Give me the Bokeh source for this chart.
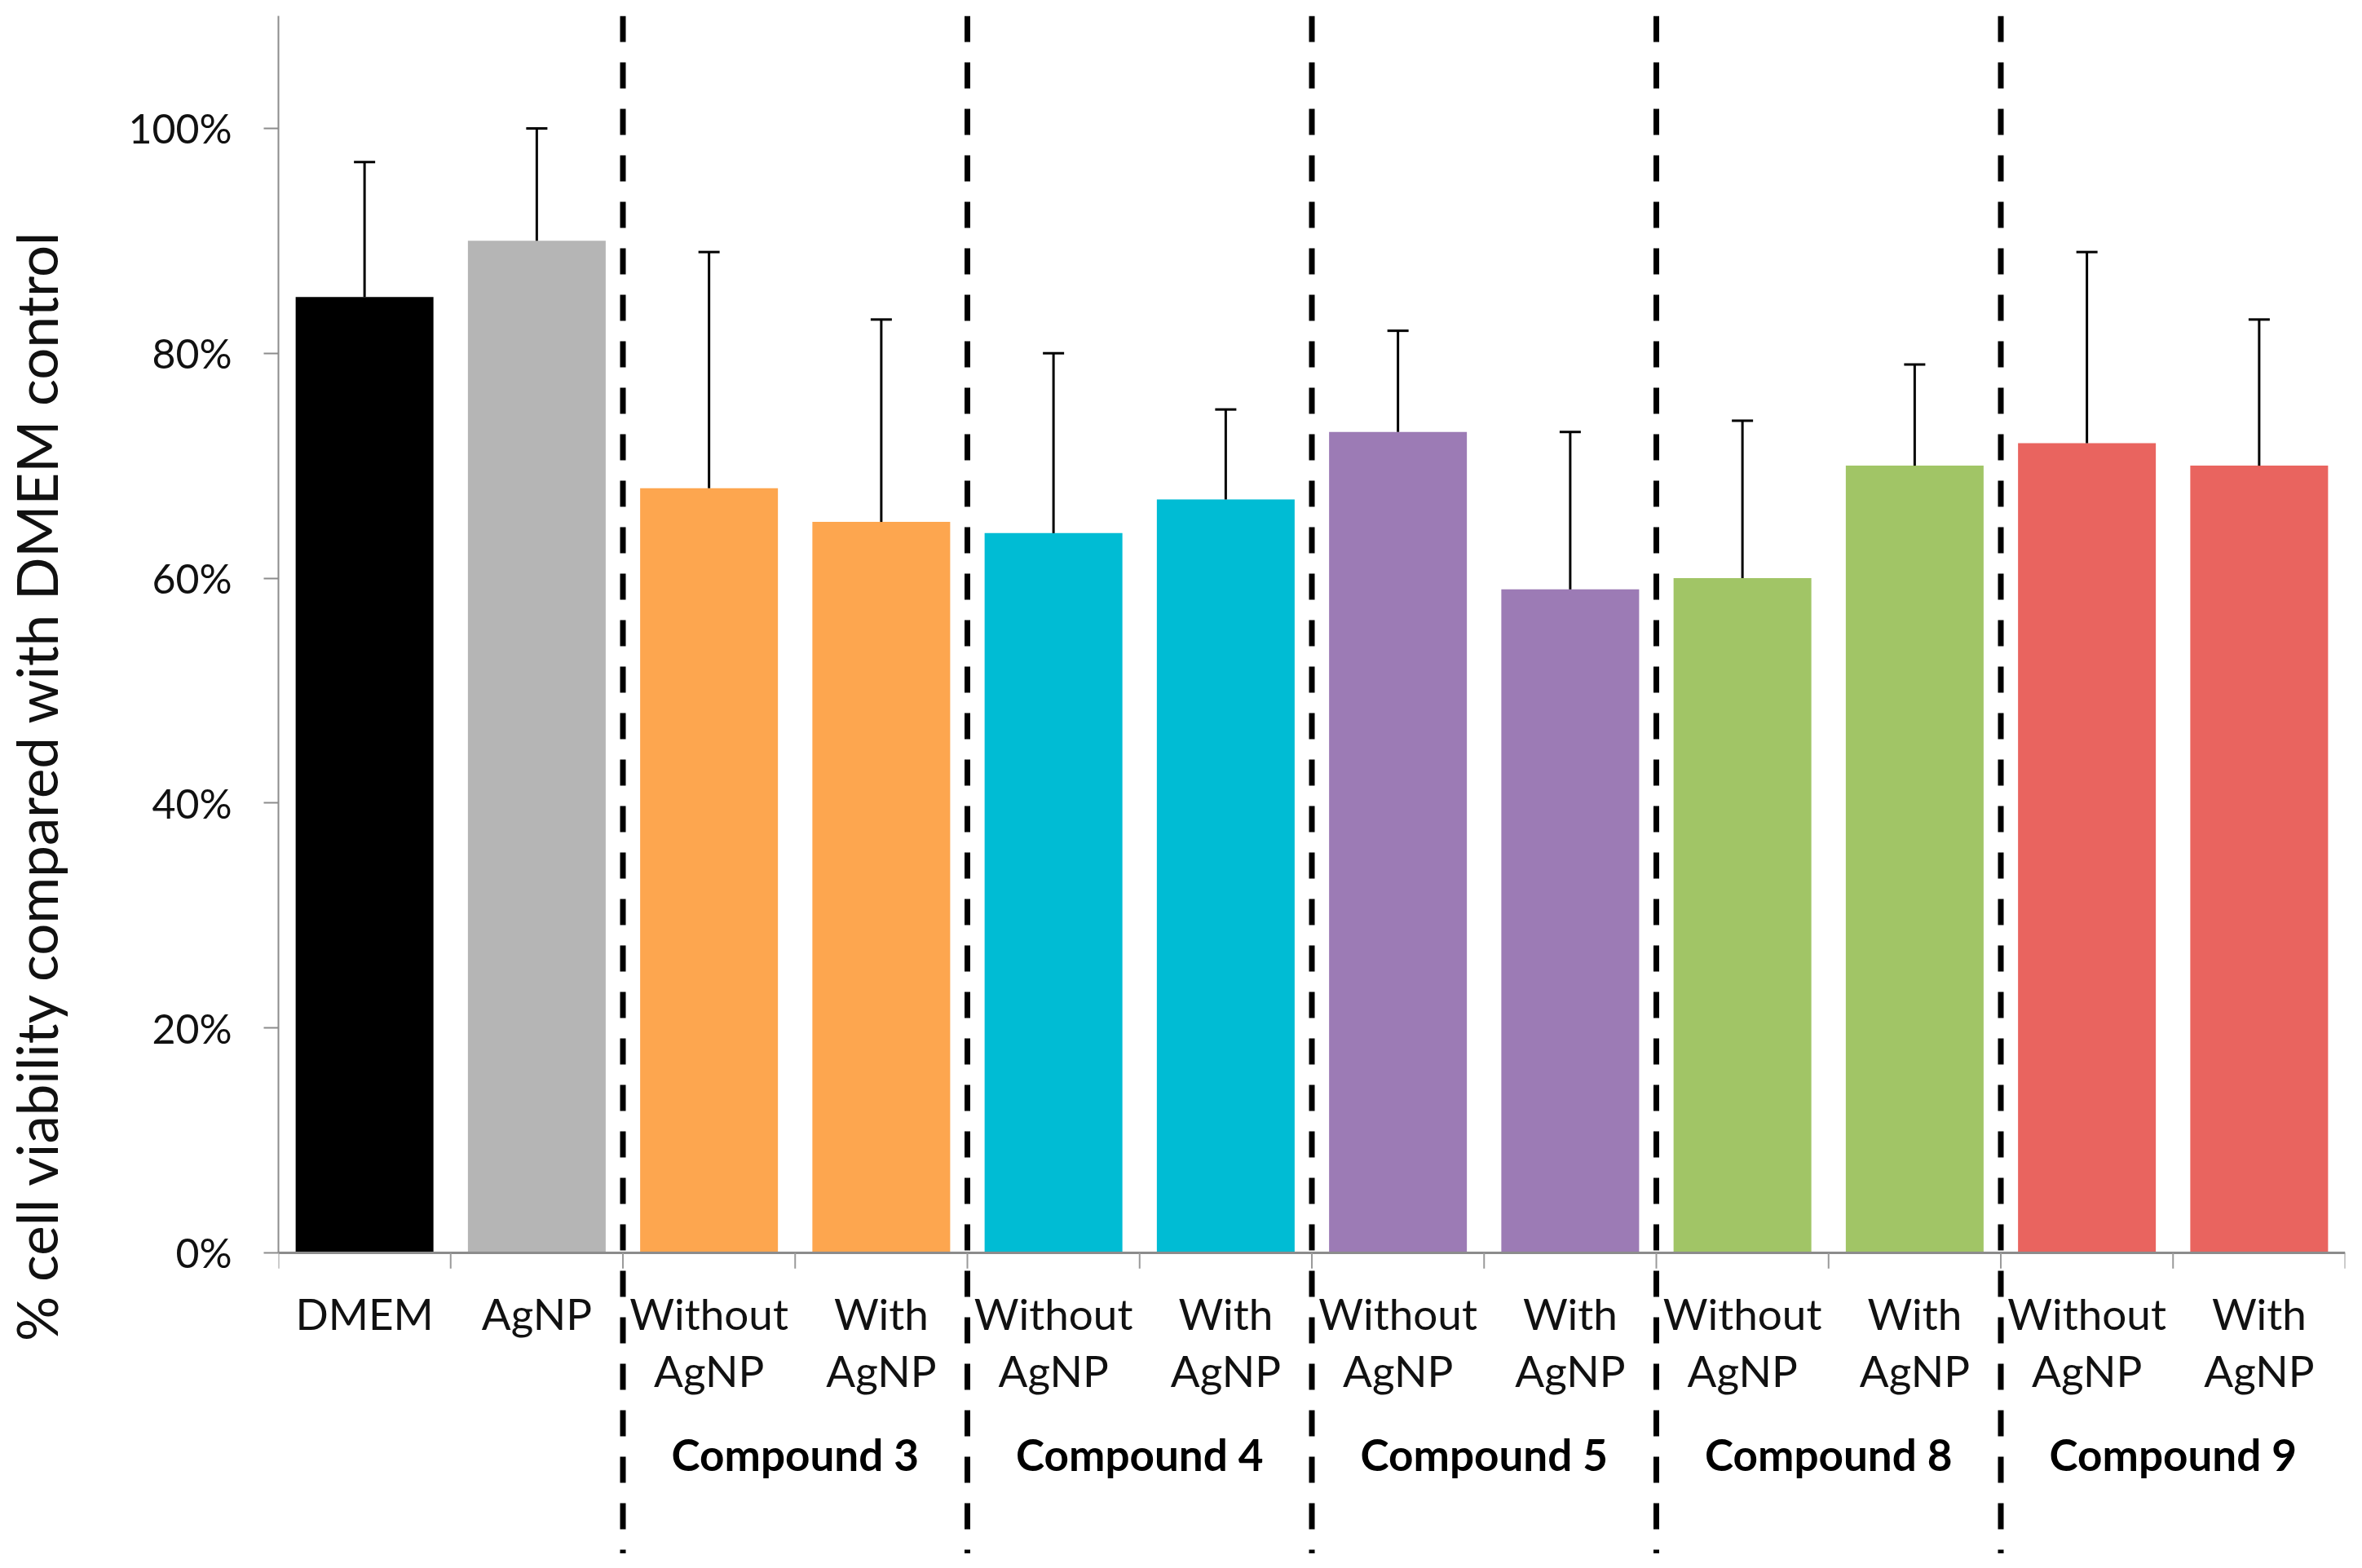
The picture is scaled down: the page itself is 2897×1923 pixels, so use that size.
from bokeh.plotting import figure
from bokeh.models import (ColumnDataSource, FactorRange, Range1d, FixedTicker, LinearAxis,
                          NumeralTickFormatter, CustomJSTickFormatter, Whisker, TeeHead, Arrow)
from bokeh.embed import file_html
from bokeh.resources import INLINE

# ---- data ----
groups = ["", "", "Compound 3", "Compound 3", "Compound 4", "Compound 4",
          "Compound 5", "Compound 5", "Compound 8", "Compound 8", "Compound 9", "Compound 9"]
labels = ["DMEM", "AgNP", "Without\nAgNP", "With\nAgNP", "Without\nAgNP", "With\nAgNP",
          "Without\nAgNP", "With\nAgNP", "Without\nAgNP", "With\nAgNP", "Without\nAgNP", "With\nAgNP"]
values = [0.85, 0.90, 0.68, 0.65, 0.64, 0.67, 0.73, 0.59, 0.60, 0.70, 0.72, 0.70]
errors = [0.12, 0.10, 0.21, 0.18, 0.16, 0.08, 0.09, 0.14, 0.14, 0.09, 0.17, 0.13]
colors = ["#000000", "#b5b5b5", "#fda64f", "#fda64f", "#00bcd4", "#00bcd4",
          "#9c7bb5", "#9c7bb5", "#a1c566", "#a1c566", "#e9645f", "#e9645f"]
y_ticks = [0, 0.2, 0.4, 0.6, 0.8, 1.0]
y_label = "% cell viability compared with DMEM control"

FONT = "Lato"
Y_TOP = 1.10
Y_BOTTOM = -0.2676   # room below zero for the category labels

factors = list(zip(groups, labels))
src = ColumnDataSource(dict(
    x=factors, top=values, upper=[v + e for v, e in zip(values, errors)], color=colors))

x_range = FactorRange(*factors, factor_padding=0, group_padding=0, range_padding=0)
p = figure(width=2880, height=1905, x_range=x_range, y_range=Range1d(Y_BOTTOM, Y_TOP),
           output_backend="svg", toolbar_location=None, y_axis_location=None)
p.min_border_left = 336
p.min_border_right = 4
p.min_border_top = 19
p.min_border_bottom = 0
p.outline_line_color = None
p.xgrid.grid_line_color = None

p.vbar(x="x", top="top", bottom=0, width=0.8, source=src, fill_color="color", line_color=None)

w = Whisker(base="x", lower="top", upper="upper", source=src, dimension="height",
            line_color="black", line_width=3, lower_head=None,
            upper_head=TeeHead(size=26, line_width=3, line_color="black"), level="overlay")
p.add_layout(w)

# y axis: line + ticks (bounded to 0..110%)
line_axis = LinearAxis(bounds=(0, Y_TOP), ticker=FixedTicker(ticks=y_ticks),
                       formatter=CustomJSTickFormatter(code="return ''"),
                       major_tick_in=0, major_tick_out=18, minor_tick_line_color=None,
                       major_tick_line_color="#8c8c8c", major_tick_line_width=2,
                       axis_line_color="#8c8c8c", axis_line_width=2, major_label_standoff=0)
p.add_layout(line_axis, "left")

# y axis: tick labels and title
label_axis = LinearAxis(bounds=(-0.178, Y_TOP), ticker=FixedTicker(ticks=y_ticks),
                        formatter=NumeralTickFormatter(format="0%"),
                        axis_line_color=None, major_tick_line_color=None, minor_tick_line_color=None,
                        major_tick_in=0, major_tick_out=0, major_label_standoff=39,
                        major_label_text_font=FONT, major_label_text_font_size="50px",
                        major_label_text_color="#111111",
                        axis_label=y_label, axis_label_text_font=FONT,
                        axis_label_text_font_size="69px", axis_label_text_font_style="normal",
                        axis_label_text_color="#111111", axis_label_standoff=68)
p.add_layout(label_axis, "left")
p.ygrid.grid_line_color = None

# x axis (categorical, nested) fixed at y = 0
xa = p.xaxis[0]
xa.fixed_location = 0
xa.axis_line_color = "#8c8c8c"
xa.axis_line_width = 3
xa.major_tick_line_color = None
xa.major_label_text_font = FONT
xa.major_label_text_font_size = "53px"
xa.major_label_text_color = "#111111"
xa.major_label_text_line_height = 1.1
xa.major_label_standoff = 37
xa.group_text_font = FONT
xa.group_text_font_size = "53px"
xa.group_text_font_style = "bold"
xa.group_text_color = "#000000"
xa.separator_line_color = None

# boundary ticks below the x axis line
for i in range(len(factors) + 1):
    p.add_layout(Arrow(x_start=i, y_start=0, x_end=i, y_end=-0.014, start=None, end=None,
                       line_color="#9a9a9a", line_width=2))

# dashed separators between groups
for i in range(1, len(groups)):
    if groups[i] != groups[i - 1]:
        p.add_layout(Arrow(x_start=i, y_start=Y_TOP, x_end=i, y_end=Y_BOTTOM,
                           start=None, end=None, line_color="black", line_width=7,
                           line_dash="32 25", level="overlay"))

open("out.html", "w").write(file_html(p, INLINE))
